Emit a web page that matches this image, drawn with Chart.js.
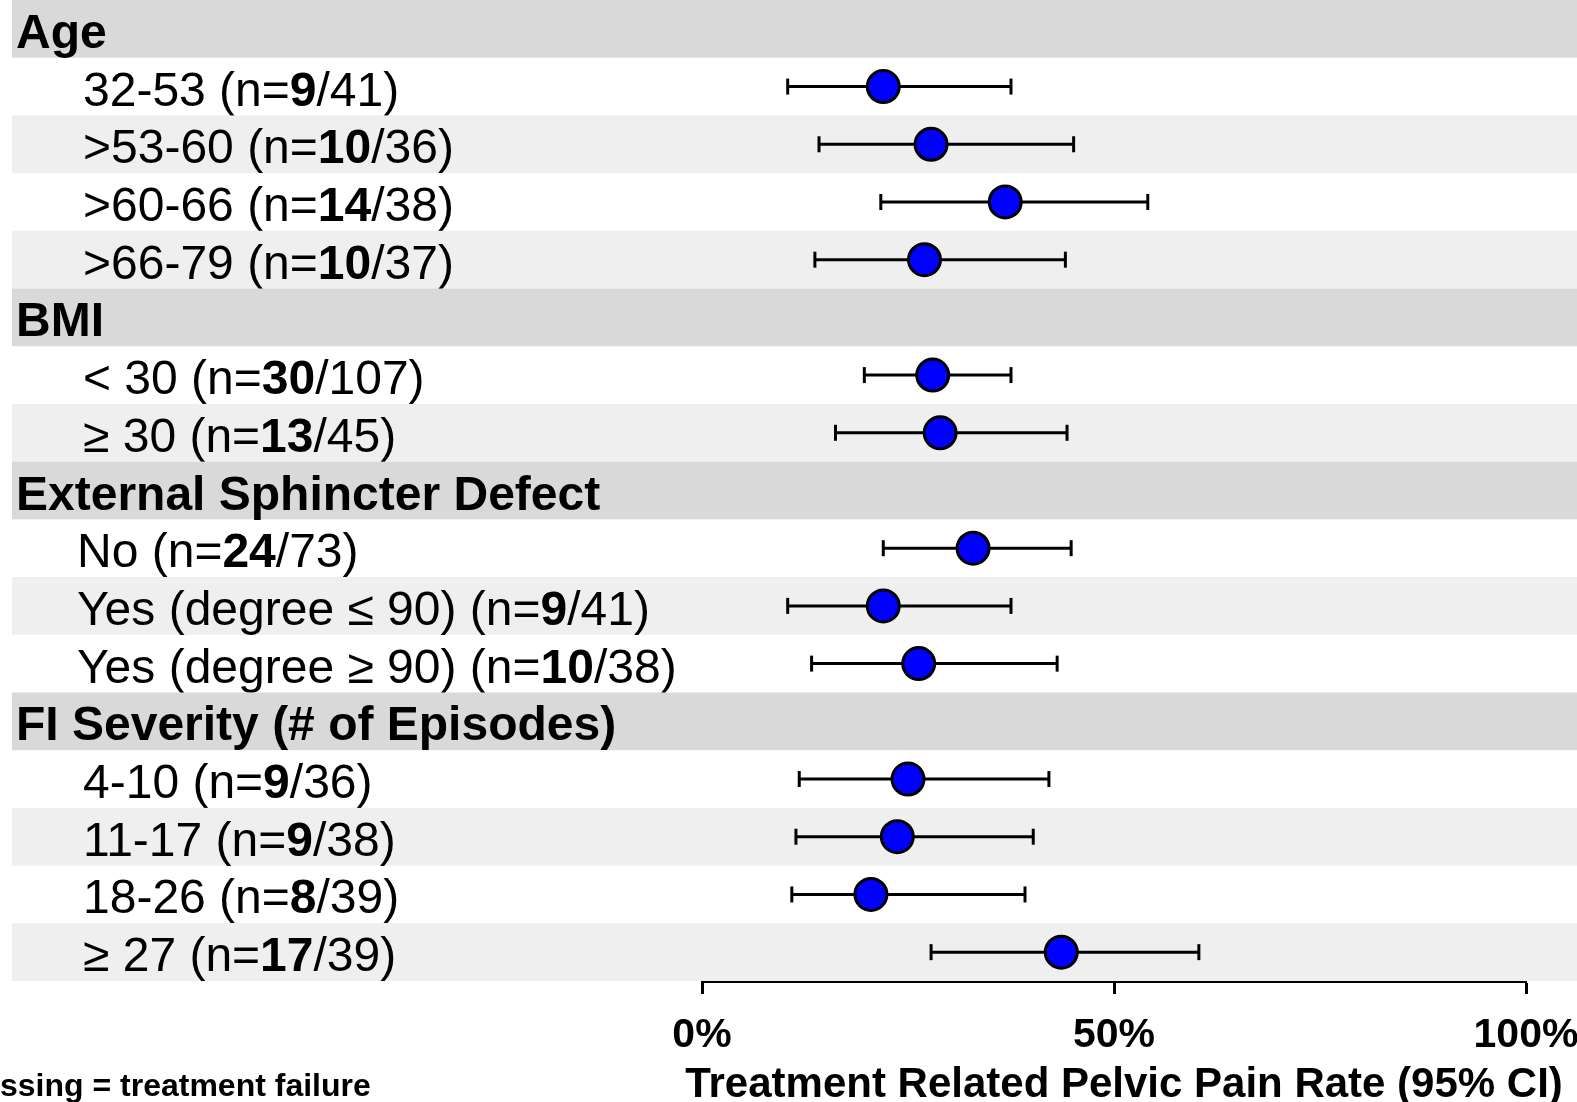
<!DOCTYPE html>
<html>
<head>
<meta charset="utf-8">
<script src="https://cdn.jsdelivr.net/npm/chart.js@4.4.1/dist/chart.umd.min.js"></script>
<style>
  html, body { margin: 0; padding: 0; background: #fff; }
  #wrap { position: relative; width: 1577px; height: 1102px; }
</style>
</head>
<body>
<div id="wrap"><canvas id="forest" width="1577" height="1102"></canvas></div>
<script>
// groups and rows of the forest plot
const groups = ['Age', 'BMI', 'External Sphincter Defect', 'FI Severity (# of Episodes)'];
const rowLabels = ['32-53', '>53-60', '>60-66', '>66-79', '< 30', '\u2265 30', 'No',
  'Yes (degree \u2264 90)', 'Yes (degree \u2265 90)', '4-10', '11-17', '18-26', '\u2265 27'];
const rowGroup = [0, 0, 0, 0, 1, 1, 2, 2, 2, 3, 3, 3, 3];
const events = [9, 10, 14, 10, 30, 13, 24, 9, 10, 9, 9, 8, 17];
const totals = [41, 36, 38, 37, 107, 45, 73, 41, 38, 36, 38, 39, 39];

// rate and 95% CI, in %
const rate = [22.0, 27.8, 36.8, 27.0, 28.0, 28.9, 32.9, 22.0, 26.3, 25.0, 23.7, 20.5, 43.6];
const ciLow = [10.4, 14.2, 21.7, 13.7, 19.7, 16.2, 22.0, 10.4, 13.3, 11.8, 11.4, 10.9, 27.8];
const ciHigh = [37.5, 45.1, 54.1, 44.1, 37.5, 44.3, 44.8, 37.5, 43.1, 42.1, 40.2, 39.2, 60.3];

const xTicks = [0, 50, 100];
const xTitle = 'Treatment Related Pelvic Pain Rate (95% CI)';

// slot layout: a header slot before each group, then its rows
const slots = [];
const rowSlot = [];
let lastGroup = -1, k = 0;
rowLabels.forEach((lab, i) => {
  if (rowGroup[i] !== lastGroup) {
    slots.push({ header: true, g: rowGroup[i] });
    lastGroup = rowGroup[i];
    k = 0;
  }
  rowSlot.push(slots.length);
  slots.push({ header: false, i: i, alt: k % 2 === 1 });
  k++;
});
const nSlots = slots.length;

const FONT = '"Liberation Sans", Arial, sans-serif';

const bandPlugin = {
  id: 'bands',
  beforeDatasetsDraw(chart) {
    const c = chart.ctx;
    const y = chart.scales.y;
    c.save();
    slots.forEach((s, n) => {
      const top = y.getPixelForValue(n - 0.5);
      const bot = y.getPixelForValue(n + 0.5);
      const mid = (top + bot) / 2;
      if (s.header || s.alt) {
        c.fillStyle = s.header ? '#d9d9d9' : '#efefef';
        c.fillRect(12, top, chart.width - 12, bot - top);
      }
      c.fillStyle = '#000';
      c.textBaseline = 'alphabetic';
      c.textAlign = 'left';
      const base = mid + 19;
      if (s.header) {
        c.font = 'bold 48px ' + FONT;
        c.fillText(groups[s.g], 16, base);
      } else {
        const i = s.i;
        let x = rowGroup[i] === 2 ? 77 : 83;
        const parts = [
          [rowLabels[i] + ' (n=', false],
          [String(events[i]), true],
          ['/' + totals[i] + ')', false]
        ];
        parts.forEach(([txt, bold]) => {
          c.font = (bold ? 'bold ' : '') + '48px ' + FONT;
          c.fillText(txt, x, base);
          x += c.measureText(txt).width;
        });
      }
    });
    c.font = 'bold 32px ' + FONT;
    c.fillText('ssing = treatment failure', 0, 1096);
    c.restore();
  },
  afterDraw(chart) {
    // axis title is wider than the axis itself, so draw it here
    const c = chart.ctx;
    const xs = chart.scales.x;
    c.save();
    c.font = 'bold 42px ' + FONT;
    c.fillStyle = '#000';
    c.textAlign = 'center';
    c.textBaseline = 'alphabetic';
    c.fillText(xTitle, (xs.left + xs.right) / 2 + 10, 1097);
    c.restore();
  }
};

const pointData = rate.map((v, i) => ({ x: v, y: rowSlot[i] }));

const whiskers = rate.map((v, i) => ({
  type: 'line',
  showLine: true,
  data: [{ x: ciLow[i], y: rowSlot[i] }, { x: ciHigh[i], y: rowSlot[i] }],
  borderColor: '#000',
  borderWidth: 3,
  pointStyle: 'line',
  rotation: 90,
  pointRadius: 8,
  pointBorderWidth: 3,
  pointBorderColor: '#000'
}));

const ctx = document.getElementById('forest');
const forest = new Chart(ctx, {
  type: 'scatter',
  data: {
    datasets: [{
      label: 'Rate',
      data: pointData,
      pointRadius: 16,
      pointBackgroundColor: '#0000ff',
      pointBorderColor: '#000',
      pointBorderWidth: 3
    }].concat(whiskers)
  },
  options: {
    responsive: false,
    animation: false,
    clip: false,
    layout: { autoPadding: false, padding: { left: 702, right: 51, top: 0, bottom: 0 } },
    plugins: { legend: { display: false }, tooltip: { enabled: false } },
    scales: {
      x: {
        type: 'linear',
        min: 0,
        max: 100,
        afterBuildTicks: (s) => { s.ticks = xTicks.map(v => ({ value: v })); },
        afterFit: (s) => { s.height = 121; s.paddingLeft = 0; s.paddingRight = 0; },
        border: { display: true, color: '#000', width: 3 },
        grid: { drawOnChartArea: false, tickLength: 13, tickWidth: 3, tickColor: '#000' },
        ticks: {
          callback: v => v + '%',
          color: '#000',
          maxRotation: 0,
          padding: 17,
          font: { family: FONT, size: 41, weight: 'bold' }
        },
        title: { display: false }
      },
      y: { type: 'linear', min: -0.5, max: nSlots - 0.5, reverse: true, display: false }
    }
  },
  plugins: [bandPlugin]
});
</script>
</body>
</html>
